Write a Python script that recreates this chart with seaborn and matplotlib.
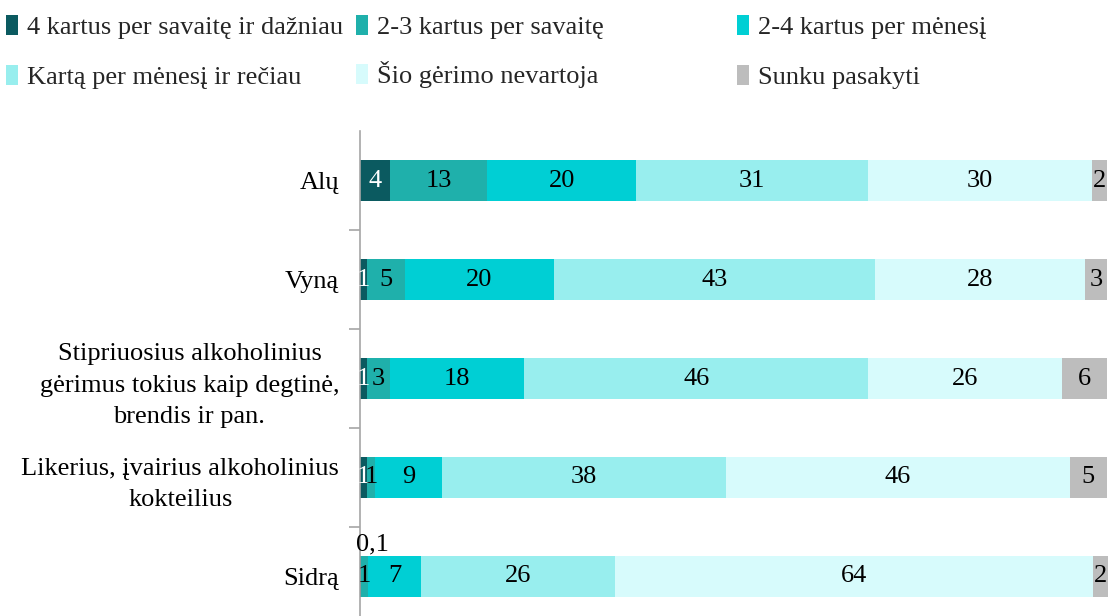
import numpy as np
import pandas as pd
import matplotlib
matplotlib.use("Agg")
import matplotlib.pyplot as plt
import seaborn as sns
from matplotlib.patches import Patch
from matplotlib.ticker import FixedLocator

categories = ["Alų", "Vyną",
              "Stipriuosius alkoholinius\ngėrimus tokius kaip degtinė,\nbrendis ir pan.",
              "Likerius, įvairius alkoholinius\nkokteilius", "Sidrą"]
series = ["4 kartus per savaitę ir dažniau", "2-3 kartus per savaitę",
          "2-4 kartus per mėnesį", "Kartą per mėnesį ir rečiau",
          "Šio gėrimo nevartoja", "Sunku pasakyti"]
v_4week = [4, 1, 1, 1, 0.1]
v_23week = [13, 5, 3, 1, 1]
v_24month = [20, 20, 18, 9, 7]
v_once = [31, 43, 46, 38, 26]
v_never = [30, 28, 26, 46, 64]
v_hard = [2, 3, 6, 5, 2]
colors = ["#0b5a60", "#1fb0ab", "#00cfd4", "#98eeee", "#d7fbfc", "#bdbdbd"]
text_colors = ["white", "black", "black", "black", "black", "black"]

values = [v_4week, v_23week, v_24month, v_once, v_never, v_hard]

sns.set_theme(style="white")
plt.rcParams["font.family"] = ["Liberation Serif", "DejaVu Serif"]
FS = 19

fig = plt.figure(figsize=(11.16, 6.16), dpi=100)
ax = fig.add_axes([0.3226, -0.008, 0.670, 0.795])

cum = np.cumsum(np.array(values), axis=0)
for i in range(len(series) - 1, -1, -1):
    df = pd.DataFrame({"cat": categories, "x": cum[i]})
    sns.barplot(data=df, x="x", y="cat", color=colors[i], width=0.41,
                orient="h", ax=ax, saturation=1, edgecolor="none", linewidth=0)

for i in range(len(series)):
    for j, cat in enumerate(categories):
        v = values[i][j]
        left = cum[i][j] - v
        label = f"{v:g}".replace(".", ",")
        if v < 0.5:
            ax.text(left + v / 2 + 1.6, j - 0.32, label, ha="center", va="center",
                    fontsize=FS, color="black")
        else:
            ax.text(left + v / 2, j, label, ha="center", va="center",
                    fontsize=FS, color=text_colors[i])

ax.set_xlim(0, 100.1)
ax.set_ylim(4.45, -0.5)
ax.set_xlabel("")
ax.set_ylabel("")
ax.set_xticks([])
for s in ["top", "right", "bottom"]:
    ax.spines[s].set_visible(False)
ax.spines["left"].set_color("#a6a6a6")
ax.spines["left"].set_linewidth(1.2)
ax.tick_params(axis="y", which="major", length=0, pad=15, labelsize=FS)
ax.yaxis.set_minor_locator(FixedLocator([0.5, 1.5, 2.5, 3.5]))
ax.tick_params(axis="y", which="minor", length=8, width=1.2, color="#a6a6a6", left=True)
for t in ax.get_yticklabels():
    t.set_multialignment("center")
    t.set_linespacing(1.55)
    t.set_color("black")

# legend: one entry per position (3 columns x 2 rows)
xs = [0.0055, 0.319, 0.6605]
ys = [1 - 27 / 616, 1 - 77 / 616]
for k in range(len(series)):
    x = xs[k % 3]
    y = ys[k // 3]
    if k == 4:
        y += 2.5 / 616
    fig.legend([Patch(facecolor=colors[k], edgecolor="none")], [series[k]],
               loc="center left", bbox_to_anchor=(x, y), frameon=False,
               fontsize=FS, handlelength=0.45, handleheight=0.8,
               handletextpad=0.35, borderaxespad=0, borderpad=0)

fig.savefig("out.png", dpi=100)
